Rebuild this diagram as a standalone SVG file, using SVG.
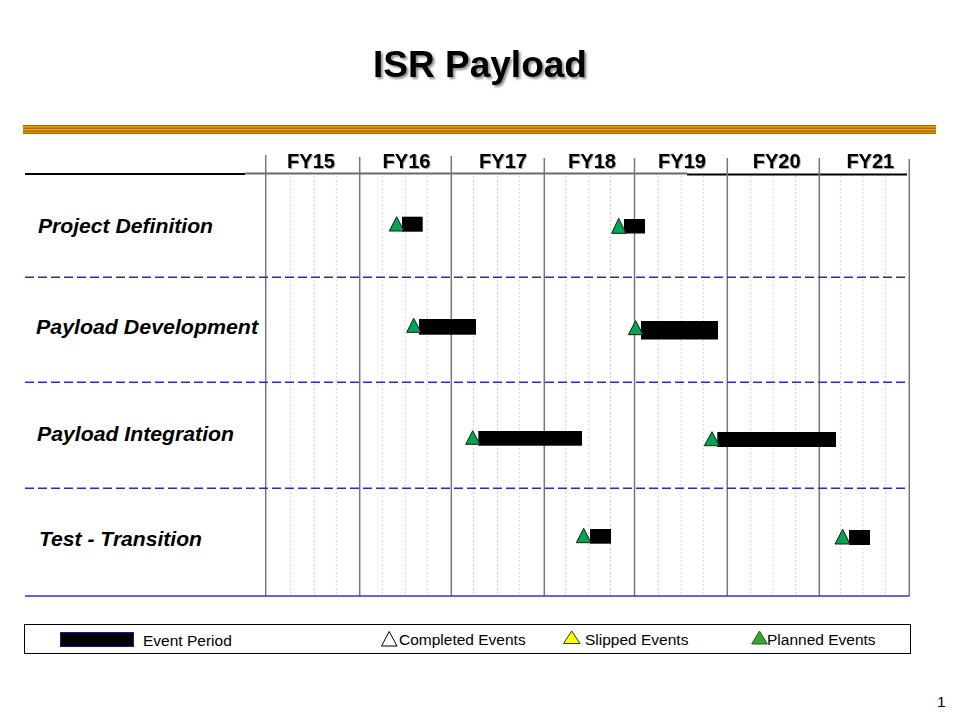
<svg xmlns="http://www.w3.org/2000/svg" width="960" height="720" viewBox="0 0 960 720">
<defs>
<linearGradient id="gold" x1="0" y1="0" x2="0" y2="1">
<stop offset="0" stop-color="#7a4c00"/>
<stop offset="0.18" stop-color="#f5a300"/>
<stop offset="0.38" stop-color="#a86a00"/>
<stop offset="0.52" stop-color="#ffae10"/>
<stop offset="0.68" stop-color="#9a6200"/>
<stop offset="0.85" stop-color="#eb9c00"/>
<stop offset="1" stop-color="#6e4500"/>
</linearGradient>
<filter id="shadow" x="-10%" y="-20%" width="120%" height="150%">
<feGaussianBlur in="SourceAlpha" stdDeviation="1"/>
<feOffset dx="2" dy="2" result="b"/>
<feComponentTransfer result="s"><feFuncA type="linear" slope="0.45"/></feComponentTransfer>
<feMerge><feMergeNode in="s"/><feMergeNode in="SourceGraphic"/></feMerge>
</filter>
<filter id="shadow2" x="-10%" y="-20%" width="120%" height="150%">
<feGaussianBlur in="SourceAlpha" stdDeviation="0.7"/>
<feOffset dx="1" dy="1" result="b"/>
<feComponentTransfer result="s"><feFuncA type="linear" slope="0.35"/></feComponentTransfer>
<feMerge><feMergeNode in="s"/><feMergeNode in="SourceGraphic"/></feMerge>
</filter>
</defs>
<style>
.title{font-family:"Liberation Sans",Arial,sans-serif;font-weight:bold;font-size:37px;text-anchor:middle;fill:#000}
.fy{font-family:"Liberation Sans",Arial,sans-serif;font-weight:bold;font-size:20px;text-anchor:middle;fill:#000}
.row{font-family:"Liberation Sans",Arial,sans-serif;font-weight:bold;font-style:italic;font-size:21px;fill:#000}
.leg{font-family:"Liberation Sans",Arial,sans-serif;font-size:15.5px;fill:#000}
.major{stroke:#777;stroke-width:1.5}
.minor{stroke:#d4d4d4;stroke-width:1;stroke-dasharray:2,2}
.dash{stroke:#2a2ac0;stroke-width:1.5;stroke-dasharray:9,4}
.bar{fill:#000}
.tri{fill:#00a651;stroke:#1a1a1a;stroke-width:1}
</style>
<rect width="960" height="720" fill="#fff"/>

<g id="title">
<text class="title" x="480" y="77" filter="url(#shadow)">ISR Payload</text>
</g>

<rect id="gold-bar" x="23" y="125" width="913" height="9" fill="url(#gold)"/>

<g id="grid">
<line x1="25" y1="174" x2="245" y2="174" stroke="#000" stroke-width="2"/>
<line x1="245" y1="173.5" x2="687" y2="173.5" stroke="#6a6a6a" stroke-width="2"/>
<line x1="687" y1="174.5" x2="907" y2="174.5" stroke="#000" stroke-width="2"/>
<g class="minor">
<line x1="290.7" y1="176" x2="290.7" y2="596"/><line x1="314.3" y1="176" x2="314.3" y2="596"/><line x1="336.3" y1="176" x2="336.3" y2="596"/>
<line x1="382.3" y1="176" x2="382.3" y2="596"/><line x1="405.3" y1="176" x2="405.3" y2="596"/><line x1="427.3" y1="176" x2="427.3" y2="596"/>
<line x1="473.5" y1="176" x2="473.5" y2="596"/><line x1="497.5" y1="176" x2="497.5" y2="596"/><line x1="519.3" y1="176" x2="519.3" y2="596"/>
<line x1="565.7" y1="176" x2="565.7" y2="596"/><line x1="588.7" y1="176" x2="588.7" y2="596"/><line x1="610.5" y1="176" x2="610.5" y2="596"/>
<line x1="658.3" y1="176" x2="658.3" y2="596"/><line x1="681" y1="176" x2="681" y2="596"/><line x1="703.3" y1="176" x2="703.3" y2="596"/>
<line x1="750.7" y1="176" x2="750.7" y2="596"/><line x1="773" y1="176" x2="773" y2="596"/><line x1="795.5" y1="176" x2="795.5" y2="596"/>
<line x1="840.3" y1="176" x2="840.3" y2="596"/><line x1="863" y1="176" x2="863" y2="596"/><line x1="885.3" y1="176" x2="885.3" y2="596"/>
</g>
<g class="major">
<line x1="265.7" y1="155" x2="265.7" y2="596"/>
<line x1="359.7" y1="157" x2="359.7" y2="596"/>
<line x1="451.3" y1="156" x2="451.3" y2="596"/>
<line x1="544.3" y1="158" x2="544.3" y2="596"/>
<line x1="634.5" y1="158" x2="634.5" y2="596"/>
<line x1="727.3" y1="158" x2="727.3" y2="596"/>
<line x1="819.3" y1="158" x2="819.3" y2="596"/>
<line x1="909.3" y1="159" x2="909.3" y2="596"/>
</g>
<line class="dash" x1="25" y1="277.3" x2="909" y2="277.3"/>
<line class="dash" x1="25" y1="382.3" x2="909" y2="382.3"/>
<line class="dash" x1="25" y1="488.3" x2="909" y2="488.3"/>
<line x1="25" y1="596" x2="909.3" y2="596" stroke="#3333cc" stroke-width="1.5"/>
</g>

<g id="fy-labels" filter="url(#shadow2)">
<text class="fy" x="311" y="168">FY15</text>
<text class="fy" x="406.5" y="168">FY16</text>
<text class="fy" x="503" y="168">FY17</text>
<text class="fy" x="592" y="168">FY18</text>
<text class="fy" x="682" y="168">FY19</text>
<text class="fy" x="776.7" y="168">FY20</text>
<text class="fy" x="870.3" y="168">FY21</text>
</g>

<g id="row-project-definition">
<text class="row" x="38" y="233" textLength="175" lengthAdjust="spacingAndGlyphs">Project Definition</text>
<rect class="bar" x="402" y="216.7" width="20.7" height="15"/>
<polygon class="tri" points="389.3,231 396.7,216.7 404,231"/>
<rect class="bar" x="624" y="219" width="21" height="14.5"/>
<polygon class="tri" points="611.7,233.3 618.7,218.3 626,233.3"/>
</g>

<g id="row-payload-development">
<text class="row" x="36" y="334" textLength="222" lengthAdjust="spacingAndGlyphs">Payload Development</text>
<rect class="bar" x="419" y="319" width="57" height="15.7"/>
<polygon class="tri" points="406.7,332.3 413.7,318.3 421,332.3"/>
<rect class="bar" x="641" y="321" width="77" height="18.5"/>
<polygon class="tri" points="628.3,334.7 635.7,320.7 643,334.7"/>
</g>

<g id="row-payload-integration">
<text class="row" x="37" y="441" textLength="197" lengthAdjust="spacingAndGlyphs">Payload Integration</text>
<rect class="bar" x="478.3" y="431" width="103.7" height="14.7"/>
<polygon class="tri" points="465.7,444.3 472.7,430.7 480,444.3"/>
<rect class="bar" x="717.3" y="432" width="118.7" height="15"/>
<polygon class="tri" points="704.3,445.7 712,431.7 719.5,445.7"/>
</g>

<g id="row-test-transition">
<text class="row" x="39" y="546" textLength="163" lengthAdjust="spacingAndGlyphs">Test - Transition</text>
<rect class="bar" x="590" y="529" width="21" height="14.7"/>
<polygon class="tri" points="576.3,542.7 583.7,528.3 591,542.7"/>
<rect class="bar" x="849" y="530" width="21" height="15"/>
<polygon class="tri" points="835,544 842.7,529.3 850,544"/>
</g>

<g id="legend">
<rect x="24.5" y="624.5" width="886" height="29" fill="#fff" stroke="#000" stroke-width="1"/>
<rect x="60.5" y="632.5" width="73" height="14" fill="#000" stroke="#1a1a80" stroke-width="1"/>
<text class="leg" x="143" y="645.5">Event Period</text>
<polygon points="381.5,646 389.2,631.5 397,646" fill="none" stroke="#000" stroke-width="1"/>
<text class="leg" x="399" y="645">Completed Events</text>
<polygon points="563.5,643.5 571.7,631 580,643.5" fill="#ffff00" stroke="#333" stroke-width="1"/>
<text class="leg" x="585" y="645">Slipped Events</text>
<polygon points="751.7,644 759.5,631 767.3,644" fill="#3aa33a" stroke="#1a5a1a" stroke-width="1"/>
<text class="leg" x="767" y="645">Planned Events</text>
</g>

<text id="page-number" class="leg" x="937" y="707" font-size="16">1</text>
</svg>
